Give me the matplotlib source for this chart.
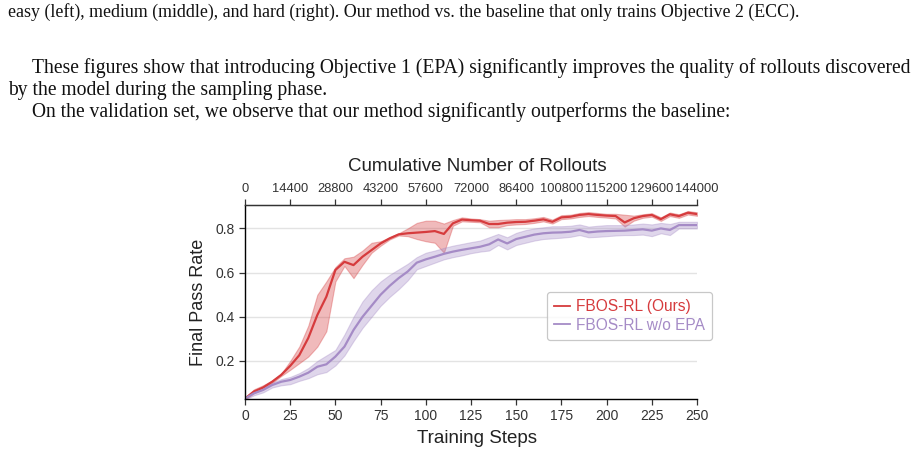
import matplotlib
matplotlib.use("Agg")
import matplotlib.pyplot as plt
import numpy as np

steps = list(range(0, 251, 5))

ours_mean = [0.030, 0.062, 0.080, 0.106, 0.137, 0.178, 0.226, 0.304, 0.408, 0.491,
             0.612, 0.649, 0.634, 0.672, 0.702, 0.732, 0.755, 0.773, 0.778, 0.781,
             0.784, 0.788, 0.775, 0.823, 0.840, 0.837, 0.835, 0.820, 0.820, 0.826,
             0.829, 0.830, 0.835, 0.841, 0.830, 0.850, 0.853, 0.861, 0.865, 0.861,
             0.858, 0.856, 0.827, 0.846, 0.856, 0.861, 0.842, 0.864, 0.856, 0.871,
             0.865]
ours_low = [0.025, 0.055, 0.072, 0.100, 0.132, 0.160, 0.190, 0.220, 0.265, 0.335,
            0.560, 0.630, 0.575, 0.635, 0.690, 0.722, 0.750, 0.768, 0.765, 0.752,
            0.742, 0.735, 0.690, 0.812, 0.832, 0.830, 0.828, 0.805, 0.805, 0.815,
            0.818, 0.820, 0.825, 0.832, 0.822, 0.842, 0.845, 0.852, 0.856, 0.852,
            0.849, 0.845, 0.808, 0.835, 0.848, 0.853, 0.834, 0.856, 0.848, 0.863,
            0.857]
ours_high = [0.035, 0.072, 0.090, 0.112, 0.142, 0.200, 0.265, 0.360, 0.500, 0.560,
             0.625, 0.665, 0.672, 0.700, 0.735, 0.742, 0.760, 0.778, 0.800, 0.825,
             0.835, 0.835, 0.822, 0.838, 0.850, 0.845, 0.842, 0.835, 0.838, 0.840,
             0.842, 0.842, 0.846, 0.852, 0.840, 0.860, 0.862, 0.870, 0.874, 0.870,
             0.866, 0.866, 0.862, 0.858, 0.864, 0.869, 0.850, 0.872, 0.864, 0.879,
             0.873]

base_mean = [0.030, 0.054, 0.069, 0.091, 0.106, 0.114, 0.129, 0.147, 0.174, 0.185,
             0.220, 0.265, 0.340, 0.400, 0.450, 0.500, 0.540, 0.575, 0.605, 0.645,
             0.660, 0.672, 0.685, 0.695, 0.703, 0.710, 0.717, 0.728, 0.750, 0.732,
             0.752, 0.762, 0.772, 0.778, 0.781, 0.782, 0.785, 0.793, 0.782, 0.786,
             0.788, 0.789, 0.790, 0.793, 0.796, 0.790, 0.800, 0.793, 0.815, 0.815,
             0.815]
base_low = [0.025, 0.045, 0.058, 0.080, 0.090, 0.095, 0.110, 0.122, 0.140, 0.150,
            0.180, 0.225, 0.290, 0.350, 0.400, 0.450, 0.490, 0.525, 0.565, 0.615,
            0.630, 0.645, 0.660, 0.670, 0.678, 0.688, 0.695, 0.700, 0.725, 0.705,
            0.725, 0.735, 0.745, 0.752, 0.755, 0.758, 0.762, 0.770, 0.760, 0.762,
            0.765, 0.768, 0.770, 0.770, 0.772, 0.765, 0.778, 0.770, 0.800, 0.800,
            0.800]
base_high = [0.035, 0.063, 0.080, 0.102, 0.118, 0.128, 0.145, 0.168, 0.200, 0.225,
             0.250, 0.320, 0.400, 0.470, 0.520, 0.560, 0.590, 0.615, 0.640, 0.670,
             0.690, 0.700, 0.712, 0.722, 0.730, 0.738, 0.745, 0.760, 0.775, 0.760,
             0.780, 0.792, 0.800, 0.805, 0.810, 0.810, 0.812, 0.818, 0.808, 0.812,
             0.815, 0.815, 0.815, 0.818, 0.822, 0.818, 0.825, 0.820, 0.830, 0.830,
             0.830]

bottom_ticks = [0, 25, 50, 75, 100, 125, 150, 175, 200, 225, 250]
top_tick_labels = ["0", "14400", "28800", "43200", "57600", "72000", "86400",
                   "100800", "115200", "129600", "144000"]
y_ticks = [0.2, 0.4, 0.6, 0.8]

red = "#d63b3d"
purple = "#a58bc6"
tick_col = "#333333"

fig = plt.figure(figsize=(9.15, 4.54), dpi=100)
serif = ["Liberation Serif", "DejaVu Serif"]
sans = ["Liberation Sans", "DejaVu Sans"]

fig.text(8 / 915, 1 - 12 / 454,
         "easy (left), medium (middle), and hard (right). Our method vs. the baseline that only trains Objective 2 (ECC).",
         family=serif, fontsize=12.9, va="center", ha="left", color="#111111")
fig.text(32 / 915, 1 - 68 / 454,
         "These figures show that introducing Objective 1 (EPA) significantly improves the quality of rollouts discovered",
         family=serif, fontsize=14.1, va="center", ha="left", color="#111111")
fig.text(8 / 915, 1 - 90 / 454,
         "by the model during the sampling phase.",
         family=serif, fontsize=14.1, va="center", ha="left", color="#111111")
fig.text(32 / 915, 1 - 112 / 454,
         "On the validation set, we observe that our method significantly outperforms the baseline:",
         family=serif, fontsize=14.1, va="center", ha="left", color="#111111")

ax = fig.add_axes([245 / 915, 1 - 399 / 454, (697 - 245) / 915, (399 - 205) / 454])

ax.fill_between(steps, ours_low, ours_high, color=red, alpha=0.35, lw=0.8)
ax.fill_between(steps, base_low, base_high, color=purple, alpha=0.35, lw=0.8)
ax.plot(steps, ours_mean, color=red, lw=1.6, label="FBOS-RL (Ours)")
ax.plot(steps, base_mean, color=purple, lw=1.6, label="FBOS-RL w/o EPA")

ax.set_xlim(0, 250)
ax.set_ylim(0.028, 0.906)
ax.set_xticks(bottom_ticks)
ax.set_yticks(y_ticks)
ax.set_yticklabels([f"{v:.1f}" for v in y_ticks])
ax.grid(axis="y", color="#e3e3e3", lw=1.0)
ax.set_axisbelow(True)
for s in ["left", "bottom", "top"]:
    ax.spines[s].set_color("#333333")
    ax.spines[s].set_linewidth(1.0)
ax.spines["right"].set_visible(False)
ax.tick_params(axis="both", colors=tick_col, labelsize=10, length=4, width=0.9)
for lab in ax.get_xticklabels() + ax.get_yticklabels():
    lab.set_family(sans)
    lab.set_color(tick_col)

ax.set_xlabel("Training Steps", family=sans, fontsize=13.5, color="#222222", labelpad=4)
ax.xaxis.set_label_coords(0.513, -0.16)
ax.set_ylabel("Final Pass Rate", family=sans, fontsize=13, color="#222222", labelpad=6)

ax2 = ax.twiny()
ax2.set_xlim(ax.get_xlim())
ax2.set_xticks(bottom_ticks)
ax2.set_xticklabels(top_tick_labels)
ax2.spines["right"].set_visible(False)
ax2.spines["top"].set_color("#333333")
ax2.tick_params(axis="x", colors=tick_col, labelsize=9.3, length=4, width=0.9)
for lab in ax2.get_xticklabels():
    lab.set_family(sans)
    lab.set_color(tick_col)
ax2.set_xlabel("Cumulative Number of Rollouts", family=sans, fontsize=13.5,
               color="#222222", labelpad=9)
ax2.xaxis.set_label_coords(0.513, 1.175)

leg = ax.legend(loc="center right", bbox_to_anchor=(1.033, 0.428), borderaxespad=0,
                handlelength=1.0, handletextpad=0.4, borderpad=0.45, labelspacing=0.25,
                prop={"family": sans, "size": 11.2}, frameon=True, fancybox=True)
leg.get_frame().set_edgecolor("#bbbbbb")
leg.get_frame().set_linewidth(0.9)
for line in leg.get_lines():
    line.set_linewidth(1.3)
for t, c in zip(leg.get_texts(), [red, purple]):
    t.set_color(c)

fig.savefig("out.png", dpi=100)
